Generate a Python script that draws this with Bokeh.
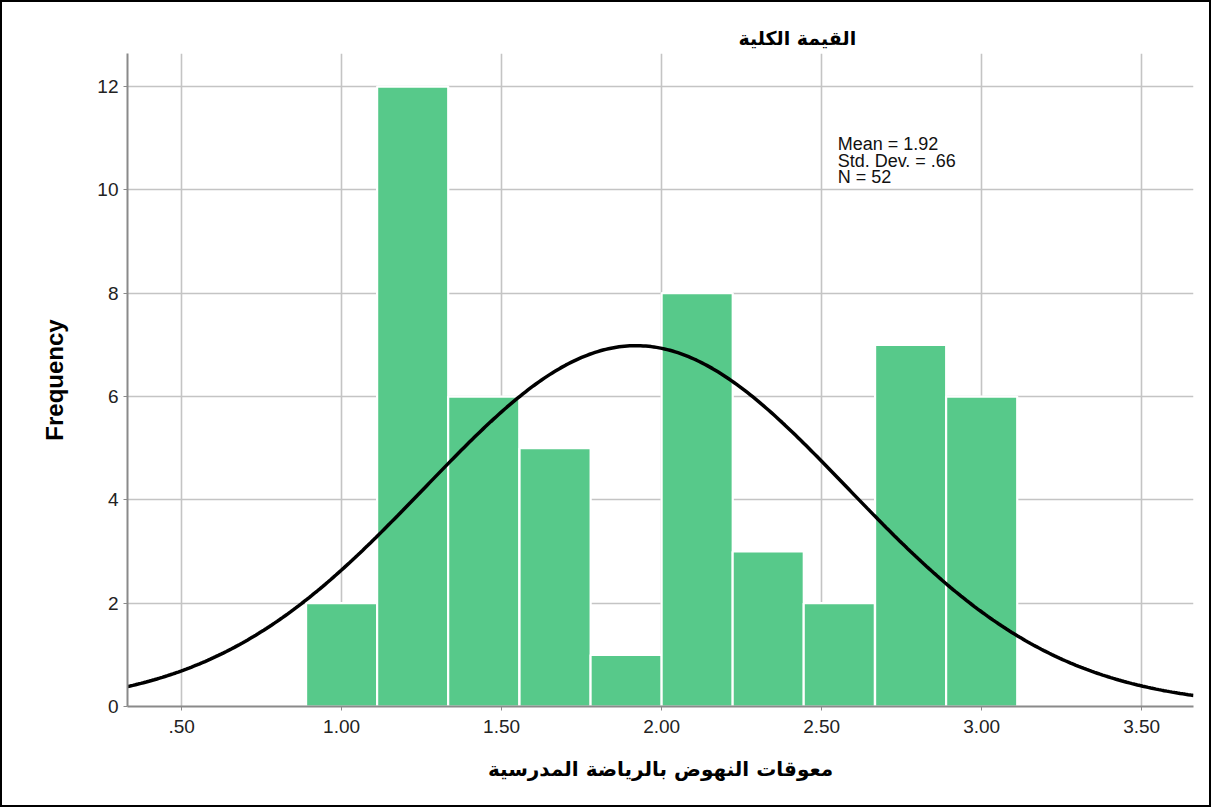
from bokeh.plotting import figure
from bokeh.embed import file_html
from bokeh.resources import INLINE
from bokeh.models import Range1d, FixedTicker, Label
import numpy as np

# ---- data ----
bin_left = [0.889, 1.111, 1.333, 1.556, 1.778, 2.000, 2.222, 2.444, 2.667, 2.889]
bin_width = 0.2222
counts = [2, 12, 6, 5, 1, 8, 3, 2, 7, 6]
mean_val = 1.92
std_val = 0.66
n_val = 52
x_ticks = [0.5, 1.0, 1.5, 2.0, 2.5, 3.0, 3.5]
x_tick_labels = [".50", "1.00", "1.50", "2.00", "2.50", "3.00", "3.50"]
y_ticks = [0, 2, 4, 6, 8, 10, 12]
title_text = "القيمة الكلية"
x_label = "معوقات النهوض بالرياضة المدرسية"
y_label = "Frequency"
stats_lines = ["Mean = 1.92", "Std. Dev. = .66", "N = 52"]

X0, X1 = 0.331, 3.662
p = figure(width=1211, height=807, output_backend="svg", toolbar_location=None,
           x_range=Range1d(X0, X1), y_range=Range1d(0, 12.64),
           min_border_left=125, min_border_right=20, min_border_top=51, min_border_bottom=103,
           styles={"border": "2px solid black", "box-sizing": "border-box"})
p.outline_line_color = None
p.background_fill_color = "white"
p.border_fill_color = "white"

# title
p.title.text = title_text
p.title.align = "left"
p.title.offset = 611
p.title.text_font = "DejaVu Sans"
p.title.text_font_style = "bold"
p.title.text_font_size = "19px"
p.title.text_color = "black"
p.title.standoff = 9

# grids
p.xgrid.ticker = FixedTicker(ticks=x_ticks)
p.ygrid.ticker = FixedTicker(ticks=y_ticks)
for g in (p.xgrid, p.ygrid):
    g.grid_line_color = "#c4c4c4"
    g.grid_line_width = 1.6

# axes
p.xaxis.ticker = FixedTicker(ticks=x_ticks)
p.xaxis.major_label_overrides = {t: l for t, l in zip(x_ticks, x_tick_labels)}
p.yaxis.ticker = FixedTicker(ticks=y_ticks)
for ax in (p.xaxis, p.yaxis):
    ax.axis_line_color = "#8a8a8a"
    ax.axis_line_width = 2
    ax.major_tick_line_color = "#8a8a8a"
    ax.major_tick_in = 0
    ax.major_tick_out = 4
    ax.minor_tick_line_color = None
    ax.major_label_text_font = "Liberation Sans"
    ax.major_label_text_font_size = "19px"
    ax.major_label_text_color = "#222222"
    ax.axis_label_text_color = "black"
    ax.axis_label_text_font_style = "bold"

p.xaxis.major_label_standoff = 9
p.xaxis.axis_label = x_label
p.xaxis.axis_label_text_font = "DejaVu Sans"
p.xaxis.axis_label_text_font_size = "20px"
p.xaxis.axis_label_standoff = 21

p.yaxis.major_label_standoff = 5
p.yaxis.axis_label = y_label
p.yaxis.axis_label_text_font = "Liberation Sans"
p.yaxis.axis_label_text_font_size = "24px"
p.yaxis.axis_label_standoff = 26

# bars
right = [b + bin_width for b in bin_left]
p.quad(left=bin_left, right=right, bottom=0, top=counts,
       fill_color="#57C98A", line_color="white", line_width=2.2)

# fitted normal curve from displayed statistics
xs = np.linspace(X0, X1, 400)
ys = n_val * bin_width * np.exp(-0.5 * ((xs - mean_val) / std_val) ** 2) / (std_val * np.sqrt(2 * np.pi))
p.line(xs, ys, line_color="black", line_width=3.5)

# stats text
stat_y = [10.88, 10.56, 10.24]
for txt, yy in zip(stats_lines, stat_y):
    p.add_layout(Label(x=2.55, y=yy, text=txt, text_font="Liberation Sans",
                       text_font_size="18px", text_baseline="alphabetic", text_color="#111111"))

open("out.html", "w").write(file_html(p, INLINE))
